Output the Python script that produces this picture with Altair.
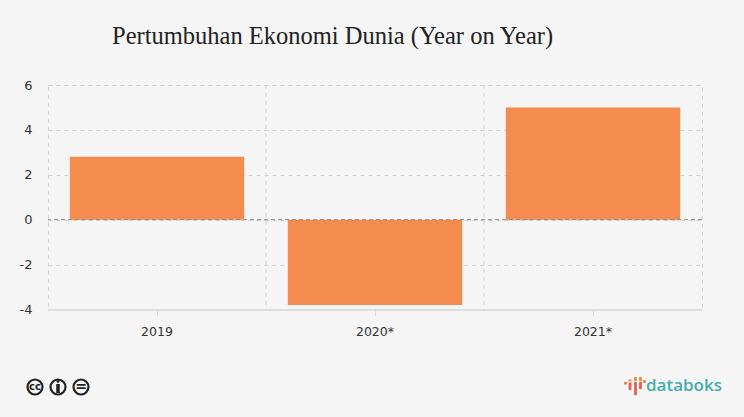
import altair as alt
import pandas as pd

categories = ["2019", "2020*", "2021*"]
values = [2.8, -3.8, 5.0]
y_ticks = [-4, -2, 0, 2, 4, 6]
title_text = "Pertumbuhan Ekonomi Dunia (Year on Year)"
BG = "#f5f5f5"
LEFT, TOP = 48, 85
W, H = 654, 224.5

df = pd.DataFrame({"cat": categories, "val": values})
xs = alt.Scale(domain=categories, paddingInner=0, paddingOuter=0)
ys = alt.Scale(domain=[-4, 6], nice=False)

grid = alt.Chart(df.iloc[1:]).mark_rule(color="#d0d0d0", strokeDash=[4, 4], strokeWidth=1).encode(
    x=alt.X("cat:N", bandPosition=0, scale=xs, sort=categories,
            axis=alt.Axis(title=None, labelAngle=0, labelFont="DejaVu Sans", labelFontSize=12.5,
                          labelColor="#333333", tickColor="#dddddd", tickSize=6, domainColor="#dddddd",
                          domainWidth=2, labelPadding=10, grid=False))
)
bars = alt.Chart(df).mark_bar(color="#f57d38", opacity=0.88, width=alt.RelativeBandSize(band=0.8)).encode(
    x=alt.X("cat:N", scale=xs, sort=categories),
    y=alt.Y("val:Q", scale=ys, title=None,
            axis=alt.Axis(values=y_ticks, grid=True, gridColor="#d0d0d0", gridDash=[4, 4], domain=False,
                          ticks=False, labelFont="DejaVu Sans", labelFontSize=13, labelColor="#333333",
                          labelPadding=16, labelExpr="toString(datum.value)")),
)
zero = alt.Chart(pd.DataFrame({"z": [0]})).mark_rule(color="#8a8a8a", strokeDash=[4, 3], strokeWidth=1).encode(
    y=alt.Y("z:Q", scale=ys)
)

def px(x):
    return alt.value(x - LEFT)
def py(y):
    return alt.value(y - TOP)

one = pd.DataFrame({"a": [0]})
deco = []
for cx in [35, 58, 81]:
    deco.append(alt.Chart(one).mark_point(shape="circle", size=225, filled=False, color="#222222", strokeWidth=2.2, opacity=1)
                .encode(x=px(cx), y=py(387)))
deco.append(alt.Chart(one).mark_text(text="cc", font="DejaVu Sans", fontSize=10, fontWeight="bold", color="#222222", align="center", baseline="middle")
            .encode(x=px(35), y=py(386.5)))
deco.append(alt.Chart(one).mark_text(text="=", font="DejaVu Sans", fontSize=14, fontWeight="bold", color="#222222", align="center", baseline="middle")
            .encode(x=px(81), y=py(386.5)))
deco.append(alt.Chart(one).mark_point(shape="circle", size=8, filled=True, color="#222222", opacity=1).encode(x=px(58), y=py(381.5)))
deco.append(alt.Chart(one).mark_rule(color="#222222", strokeWidth=3.5).encode(x=px(58), y=py(384), y2=py(393)))

logo_bars = [
    (625.5, 382, 384.5, "#e8763f"), (630, 379.5, 381.5, "#eb8f3a"), (630, 382.5, 390, "#e45f4f"),
    (635.5, 377, 381, "#eb8f3a"), (635.5, 382, 395, "#e45f4f"),
    (640.5, 377, 381, "#eb8f3a"), (640.5, 382, 389, "#e45f4f"),
    (644.5, 380, 383, "#eb8f3a"),
]
for x, y1, y2, c in logo_bars:
    deco.append(alt.Chart(one).mark_rule(color=c, strokeWidth=2.8).encode(x=px(x), y=py(y1), y2=py(y2)))
deco.append(alt.Chart(one).mark_text(text="databoks", font="Open Sans", fontSize=17, fontWeight=600, color="#45aeac", align="left", baseline="middle")
            .encode(x=px(646), y=py(385.5)))

chart = (
    alt.layer(grid, bars, zero, *deco)
    .properties(
        width=W, height=H,
        padding={"left": LEFT - 8, "top": TOP - 8, "right": 26, "bottom": 99},
        autosize=alt.AutoSizeParams(type="none"),
        background=BG,
        title=alt.TitleParams(title_text, font="Liberation Serif", fontSize=24.5, fontWeight="normal",
                              color="#222222", anchor="start", frame="group", dx=64, offset=30),
    )
    .configure_view(stroke="#d0d0d0", strokeDash=[4, 4])
)

chart.save("out.html", embed_options={"renderer": "svg", "actions": False})

html = open("out.html", encoding="utf-8").read()
html = html.replace("</head>", "<style>html,body{background:%s}</style></head>" % BG, 1)
open("out.html", "w", encoding="utf-8").write(html)
